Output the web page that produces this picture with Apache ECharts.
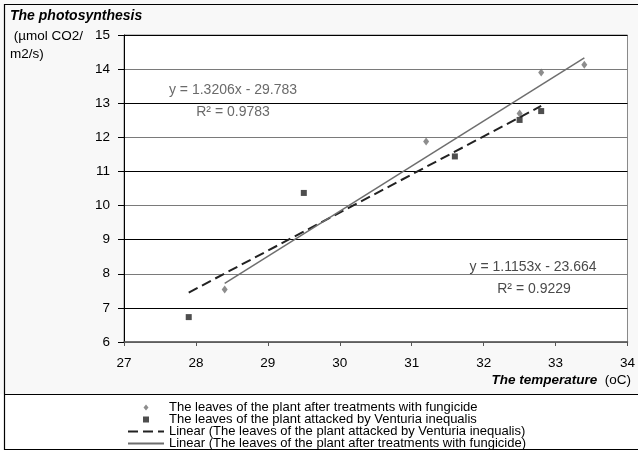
<!DOCTYPE html>
<html>
<head>
<meta charset="utf-8">
<script src="https://cdn.jsdelivr.net/npm/echarts@6/dist/echarts.min.js"></script>
<style>
  html, body { margin: 0; padding: 0; background: #fff; }
  #chart { width: 638px; height: 453px; background: linear-gradient(to bottom, #f8f8f8 0px, #f8f8f8 394px, #ffffff 394px); }
</style>
</head>
<body>
<div id="chart"></div>
<script>
// ---- data ----
const fungicideName = 'The leaves of the plant after treatments with fungicide';
const venturiaName = 'The leaves of the plant attacked by Venturia inequalis';
const fungicideX = [28.4, 31.2, 32.5, 32.8, 33.4];
const fungicideY = [7.54, 11.88, 12.70, 13.90, 14.13];
const venturiaX = [27.9, 29.5, 31.6, 32.5, 32.8];
const venturiaY = [6.73, 10.37, 11.44, 12.51, 12.77];
// trend line end points (from the printed equations)
const venturiaTrendX = [27.9, 32.8];
const venturiaTrendY = [7.45, 12.92];
const fungicideTrendX = [28.4, 33.4];
const fungicideTrendY = [7.72, 14.33];
const fungicideEq = ['y = 1.3206x - 29.783', 'R² = 0.9783'];
const venturiaEq = ['y = 1.1153x - 23.664', 'R² = 0.9229'];
const xTicks = [27, 28, 29, 30, 31, 32, 33, 34];
const yTicks = [6, 7, 8, 9, 10, 11, 12, 13, 14, 15];

const zip = (xs, ys) => xs.map((x, i) => [x, ys[i]]);
const FONT = "'Liberation Sans', Arial, sans-serif";
const venturiaLinName = 'Linear (' + venturiaName + ')';
const fungicideLinName = 'Linear (' + fungicideName + ')';

const chart = echarts.init(document.getElementById('chart'));
chart.setOption({
  backgroundColor: 'transparent',
  animation: false,
  textStyle: { fontFamily: FONT },
  grid: {
    left: 124, right: 5, top: 35, bottom: 111,
    show: true, backgroundColor: '#ffffff', borderColor: '#888', borderWidth: 1
  },
  xAxis: {
    type: 'value', min: xTicks[0], max: xTicks[xTicks.length - 1], interval: 1,
    axisLine: { lineStyle: { color: '#555', width: 1.5 } },
    axisTick: { show: true, length: 4, lineStyle: { color: '#555' } },
    axisLabel: { fontSize: 13.5, color: '#000', margin: 14, fontFamily: FONT },
    splitLine: { show: false }
  },
  yAxis: {
    type: 'value', min: yTicks[0], max: yTicks[yTicks.length - 1], interval: 1,
    axisLine: { show: true, lineStyle: { color: '#000', width: 1 } },
    axisTick: { show: true, length: 6, lineStyle: { color: '#000' } },
    axisLabel: { fontSize: 13.5, color: '#000', margin: 14, fontFamily: FONT },
    splitLine: { show: true, lineStyle: { color: ['#7a7a7a', '#000000'], width: 1 } }
  },
  legend: {
    orient: 'vertical', left: 122, top: 396, height: 120,
    itemWidth: 36, itemHeight: 6, itemGap: -1,
    textStyle: { fontSize: 13, color: '#000', lineHeight: 12, fontFamily: FONT },
    data: [
      { name: fungicideName, icon: 'path://M5 0L10 6L5 12L0 6Z' },
      { name: venturiaName, icon: 'path://M0 0H10V10H0Z' },
      { name: venturiaLinName, itemStyle: { opacity: 0 } },
      { name: fungicideLinName, itemStyle: { opacity: 0 } }
    ]
  },
  series: [
    {
      name: venturiaLinName, type: 'line',
      data: zip(venturiaTrendX, venturiaTrendY), symbol: 'none',
      itemStyle: { color: '#222' },
      lineStyle: { color: '#222', width: 2, type: [10, 5] }, z: 2
    },
    {
      name: fungicideLinName, type: 'line',
      data: zip(fungicideTrendX, fungicideTrendY), symbol: 'none',
      itemStyle: { color: '#6e6e6e' },
      lineStyle: { color: '#6e6e6e', width: 1.5, type: 'solid' }, z: 2
    },
    {
      name: fungicideName, type: 'scatter', symbol: 'diamond', symbolSize: [6, 8],
      itemStyle: { color: '#707070' }, data: zip(fungicideX, fungicideY), z: 3
    },
    {
      name: venturiaName, type: 'scatter', symbol: 'rect', symbolSize: 6,
      itemStyle: { color: '#222' }, data: zip(venturiaX, venturiaY), z: 3
    }
  ],
  graphic: [
    { type: 'rect', shape: { x: 4.5, y: 4.5, width: 660, height: 445 },
      style: { fill: 'none', stroke: '#000', lineWidth: 1.2 }, z: 100 },
    { type: 'line', shape: { x1: 4.5, y1: 394.5, x2: 638, y2: 394.5 },
      style: { stroke: '#000', lineWidth: 1.2 }, z: 100 },
    { type: 'text', left: 10, top: 9,
      style: { text: 'The photosynthesis', font: 'italic bold 14px ' + FONT, fill: '#000' } },
    { type: 'text', left: 10, top: 27,
      style: { text: ' (µmol CO2/\nm2/s)', font: '13.5px ' + FONT, fill: '#000', lineHeight: 18 } },
    { type: 'text', right: 7, top: 373,
      style: {
        text: '{b|The temperature}{n|  (oC)}',
        rich: {
          b: { font: 'italic bold 13.5px ' + FONT, fill: '#000' },
          n: { font: '13.5px ' + FONT, fill: '#000' }
        }
      } },
    { type: 'text', x: 233, y: 90,
      style: { text: fungicideEq[0], font: '14px ' + FONT, fill: '#6a6a6a', align: 'center', verticalAlign: 'middle' } },
    { type: 'text', x: 233, y: 112,
      style: { text: fungicideEq[1], font: '14px ' + FONT, fill: '#6a6a6a', align: 'center', verticalAlign: 'middle' } },
    { type: 'text', x: 533, y: 267,
      style: { text: venturiaEq[0], font: '14px ' + FONT, fill: '#4a4a4a', align: 'center', verticalAlign: 'middle' } },
    { type: 'text', x: 534, y: 289,
      style: { text: venturiaEq[1], font: '14px ' + FONT, fill: '#4a4a4a', align: 'center', verticalAlign: 'middle' } }
  ]
});
</script>
</body>
</html>
